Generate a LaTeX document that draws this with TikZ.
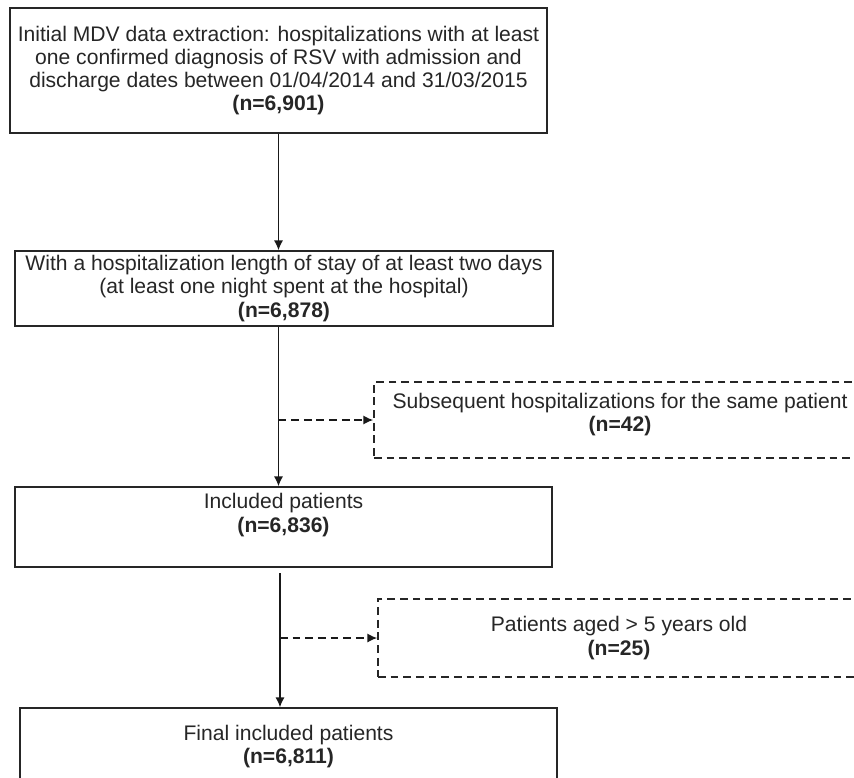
\documentclass[tikz,border=0pt]{standalone}
\usepackage{fontspec}
\setmainfont{Liberation Sans}
\usetikzlibrary{arrows.meta}
\tikzset{>={Latex[length=7pt,width=6.5pt]}}
\tikzstyle{stage}=[rectangle,draw=black!85,line width=1.1pt,align=center,text=black!85,font=\fontsize{15}{16.5}\selectfont]
\tikzstyle{excluded}=[stage,dash pattern=on 5.5pt off 3.5pt]
\tikzstyle{flow}=[->,draw=black!90,line width=1pt]

\begin{document}
\begin{tikzpicture}[x=0.025cm,y=-0.025cm,inner sep=1mm]
	\clip (0,0) rectangle (854,777);
	\node[stage, minimum width=13.425cm, minimum height=3.125cm] (box1) at (278.5, 70.5) {Initial MDV data extraction: hospitalizations with at least\\ one confirmed diagnosis of RSV with admission and\\ discharge dates between 01/04/2014 and 31/03/2015\\ \textbf{(n=6,901)}};
	\node[stage, minimum width=13.45cm, minimum height=1.875cm] (box2) at (284, 288.5) {With a hospitalization length of stay of at least two days\\ (at least one night spent at the hospital)\\ \textbf{(n=6,878)}};
	\node[stage, minimum width=13.425cm, minimum height=2cm, text depth=20pt] (box3) at (283.5, 527) {Included patients\\ \textbf{(n=6,836)}};
	\node[stage, minimum width=13.425cm, minimum height=2.5cm, text depth=19pt] (box4) at (288.5, 758) {Final included patients\\ \textbf{(n=6,811)}};
	\node[excluded, minimum width=12.3cm, minimum height=1.9cm, text depth=11pt] (ex1) at (620, 420) {Subsequent hospitalizations for the same patient\\ \textbf{(n=42)}};
	\node[excluded, minimum width=12.05cm, minimum height=1.95cm] (ex2) at (619, 638) {Patients aged > 5 years old\\ \textbf{(n=25)}};
	\coordinate (trunk3) at (280, 573);
	
	\draw[flow] (box1.south) -- (box1.south |- box2.north);
	\draw[flow] (box2.south -| box1.south) -- (box3.north -| box1.south);
	\draw[flow, dash pattern=on 5.5pt off 3.5pt] (box1.south |- ex1.west) -- (ex1.west);
	\draw[flow] (trunk3) -- (trunk3 |- box4.north);
	\draw[flow, dash pattern=on 5.5pt off 3.5pt] (trunk3 |- ex2.west) -- (ex2.west);
\end{tikzpicture}
\end{document}
